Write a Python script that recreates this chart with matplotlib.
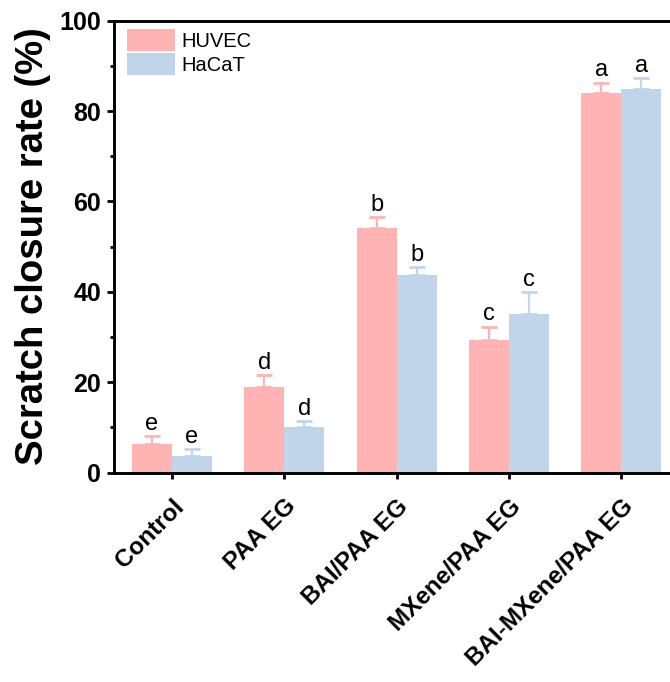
import numpy as np
import matplotlib
matplotlib.use("Agg")
import matplotlib.pyplot as plt
from matplotlib.ticker import MultipleLocator
import matplotlib.transforms as mtransforms

plt.rcParams["font.family"] = ["Liberation Sans", "DejaVu Sans"]

groups = ["Control", "PAA EG", "BAI/PAA EG", "MXene/PAA EG", "BAI-MXene/PAA EG"]
huvec = [6.3, 19.0, 54.1, 29.4, 83.9]
huvec_err = [1.7, 2.5, 2.5, 2.9, 2.4]
hacat = [3.7, 10.2, 43.7, 35.0, 84.8]
hacat_err = [1.5, 1.2, 1.7, 5.0, 2.5]
huvec_sig = ["e", "d", "b", "c", "a"]
hacat_sig = ["e", "d", "b", "c", "a"]

pink = "#FFB3B3"
blue = "#C1D5EA"

fig = plt.figure(figsize=(6.7, 6.82), dpi=100)
ax = fig.add_axes([113.5 / 670, 0.307, (690 - 113.5) / 670, 0.6628])

x = np.arange(len(groups))
w = 0.356

ax.bar(x - w / 2, huvec, w, color=pink, label="HUVEC")
ax.bar(x + w / 2, hacat, w, color=blue, label="HaCaT")
ax.errorbar(x - w / 2, huvec, yerr=[np.zeros(len(huvec)), huvec_err], fmt="none",
            ecolor=pink, elinewidth=1.6, capsize=5.6, capthick=2.0)
ax.errorbar(x + w / 2, hacat, yerr=[np.zeros(len(hacat)), hacat_err], fmt="none",
            ecolor=blue, elinewidth=1.6, capsize=5.6, capthick=2.0)

# significance letters
for xi, v, e, s in zip(x - w / 2, huvec, huvec_err, huvec_sig):
    ax.annotate(s, (xi, v + e), xytext=(0, 4.5), textcoords="offset points",
                ha="center", va="baseline", fontsize=17)
for xi, v, e, s in zip(x + w / 2, hacat, hacat_err, hacat_sig):
    ax.annotate(s, (xi, v + e), xytext=(0, 4.5), textcoords="offset points",
                ha="center", va="baseline", fontsize=17)

ax.set_ylim(0, 100)
ax.set_xlim(-0.52, 4.61)
ax.yaxis.set_major_locator(MultipleLocator(20))
ax.yaxis.set_minor_locator(MultipleLocator(10))
ax.set_xticks(x)
ax.set_xticklabels(groups, rotation=45, ha="right", rotation_mode="anchor",
                   fontsize=17.5, fontweight="bold")
offset = mtransforms.ScaledTranslation(8.5 / 72, 0, fig.dpi_scale_trans)
for lab in ax.get_xticklabels():
    lab.set_transform(lab.get_transform() + offset)

for lab in ax.get_yticklabels():
    lab.set_fontweight("bold")
    lab.set_fontsize(18)

ax.tick_params(axis="x", which="major", direction="out", length=4.5, width=2, pad=11.5)
ax.tick_params(axis="y", which="major", direction="out", length=4.8, width=2, pad=4)
ax.tick_params(axis="y", which="minor", direction="out", length=3.2, width=2)
for sp in ax.spines.values():
    sp.set_linewidth(2.1)

ax.set_ylabel("Scratch closure rate (%)", fontsize=27.5, fontweight="bold", labelpad=6)

ax.legend(loc="upper left", bbox_to_anchor=(13.5 / 576.5, 1 - 8.3 / 452), frameon=False,
          fontsize=14.5, handlelength=2.39, handleheight=1.3, labelspacing=0.1,
          handletextpad=0.3, borderaxespad=0, borderpad=0)

fig.savefig("out.png", dpi=100)
